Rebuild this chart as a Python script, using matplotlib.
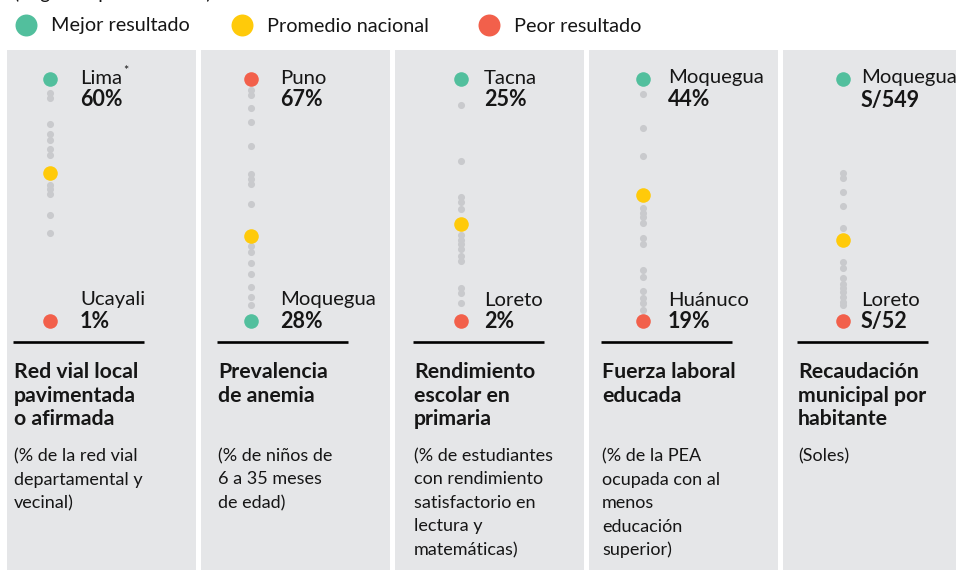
import matplotlib.pyplot as plt
from matplotlib.patches import Rectangle

plt.rcParams['font.family'] = ['Lato', 'DejaVu Sans']

# colores
VERDE = '#52bf9d'
AMARILLO = '#ffca0a'
ROJO = '#f2604b'
GRIS = '#c9cacd'
FONDO = '#e5e6e8'
TEXTO = '#161616'

# indicadores
titulos = [
    "Red vial local\npavimentada\no afirmada",
    "Prevalencia\nde anemia",
    "Rendimiento\nescolar en\nprimaria",
    "Fuerza laboral\neducada",
    "Recaudación\nmunicipal por\nhabitante",
]
notas = [
    "(% de la red vial\ndepartamental y\nvecinal)",
    "(% de niños de\n6 a 35 meses\nde edad)",
    "(% de estudiantes\ncon rendimiento\nsatisfactorio en\nlectura y\nmatemáticas)",
    "(% de la PEA\nocupada con al\nmenos\neducación\nsuperior)",
    "(Soles)",
]

# valor más alto (arriba) y más bajo (abajo) de cada indicador
sup_region = ["Lima", "Puno", "Tacna", "Moquegua", "Moquegua"]
sup_valor = [60, 67, 25, 44, 549]
inf_region = ["Ucayali", "Moquegua", "Loreto", "Huánuco", "Loreto"]
inf_valor = [1, 28, 2, 19, 52]
alto_es_mejor = [True, False, True, True, True]
promedio = [37.2, 41.7, 11.2, 32.0, 219]
formato = ["{}%", "{}%", "{}%", "{}%", "S/{}"]

# resto de departamentos
resto = [
    [56.5, 55.3, 49.0, 46.6, 45.1, 43.0, 41.5, 34.2, 33.1, 32.0, 26.8, 22.5],
    [65.2, 64.4, 62.4, 60.0, 56.2, 51.7, 50.9, 50.1, 46.9, 40.1, 39.2, 37.4,
     35.5, 33.5, 31.9, 30.6],
    [22.5, 17.2, 13.8, 13.3, 12.6, 10.2, 9.7, 9.3, 8.8, 8.2, 7.7, 5.1, 4.7, 3.7],
    [42.5, 38.9, 36.0, 30.7, 30.2, 29.7, 29.1, 27.6, 27.0, 24.3, 23.5, 22.1,
     21.4, 20.9, 20.1],
    [356, 345, 316, 289, 243, 173, 161, 140, 128, 119, 111, 101, 92, 85],
]

W, H = 956, 570
fig = plt.figure(figsize=(W / 100, H / 100), dpi=100)

base = fig.add_axes([0, 0, 1, 1])
base.set_xlim(0, W)
base.set_ylim(H, 0)
base.axis('off')

# subtítulo cortado arriba
base.text(14, -7, "(Según departamentos)", fontsize=14, va='center', color=TEXTO)

# leyenda
leyenda = [(26, VERDE, "Mejor resultado"),
           (242, AMARILLO, "Promedio nacional"),
           (489, ROJO, "Peor resultado")]
for x, c, t in leyenda:
    base.scatter(x, 25, s=250, color=c, lw=0, clip_on=False)
    base.text(x + 25, 26, t, fontsize=14.3, va='center', color=TEXTO)

panel_x = [7, 201, 395, 589, 783]
panel_w = 189
col_x = [50, 251, 461, 643, 843]
lbl_x = [80, 280, 484, 668, 861]
linea_x = [13, 217, 413, 601, 797]
y_sup, y_inf = 79, 321

renderer = fig.canvas.get_renderer()

for i in range(5):
    x0 = panel_x[i]
    base.add_patch(Rectangle((x0, 50), panel_w, H - 50, color=FONDO, lw=0, zorder=0))

    # puntos en la escala propia del indicador
    ax = fig.add_axes([0, (H - y_inf) / H, 1, (y_inf - y_sup) / H])
    ax.set_xlim(0, W)
    ax.set_ylim(inf_valor[i], sup_valor[i])
    ax.axis('off')
    ax.scatter([col_x[i]] * len(resto[i]), resto[i], s=26, color=GRIS, lw=0,
               zorder=2, clip_on=False)
    ax.scatter([col_x[i]], [promedio[i]], s=110, color=AMARILLO, lw=0, zorder=3,
               clip_on=False)
    c_sup, c_inf = (VERDE, ROJO) if alto_es_mejor[i] else (ROJO, VERDE)
    ax.scatter([col_x[i]], [sup_valor[i]], s=110, color=c_sup, lw=0, zorder=3,
               clip_on=False)
    ax.scatter([col_x[i]], [inf_valor[i]], s=110, color=c_inf, lw=0, zorder=3,
               clip_on=False)

    # etiquetas
    t = base.text(lbl_x[i], 83.5, sup_region[i], fontsize=14.6, va='baseline',
                  color=TEXTO)
    base.text(lbl_x[i], 106.5, formato[i].format(sup_valor[i]), fontsize=15.5,
              weight='bold', va='baseline', color=TEXTO)
    base.text(lbl_x[i], 305.5, inf_region[i], fontsize=14.6, va='baseline',
              color=TEXTO)
    base.text(lbl_x[i], 328, formato[i].format(inf_valor[i]), fontsize=15.5,
              weight='bold', va='baseline', color=TEXTO)
    if i == 0:
        bb = t.get_window_extent(renderer)
        base.text(bb.x1 + 1, 71, "*", fontsize=9, va='center', color=TEXTO)

    base.plot([linea_x[i], linea_x[i] + 131], [342, 342], color='black', lw=1.9,
              solid_capstyle='butt')

    # título y nota
    for k, linea in enumerate(titulos[i].split("\n")):
        base.text(linea_x[i] + 1, 378 + 23.5 * k, linea, fontsize=15.3,
                  weight='bold', va='baseline', color=TEXTO)
    for k, linea in enumerate(notas[i].split("\n")):
        base.text(linea_x[i] + 1, 461 + 23.5 * k, linea, fontsize=13,
                  va='baseline', color=TEXTO)

fig.savefig("out.png", dpi=100)
